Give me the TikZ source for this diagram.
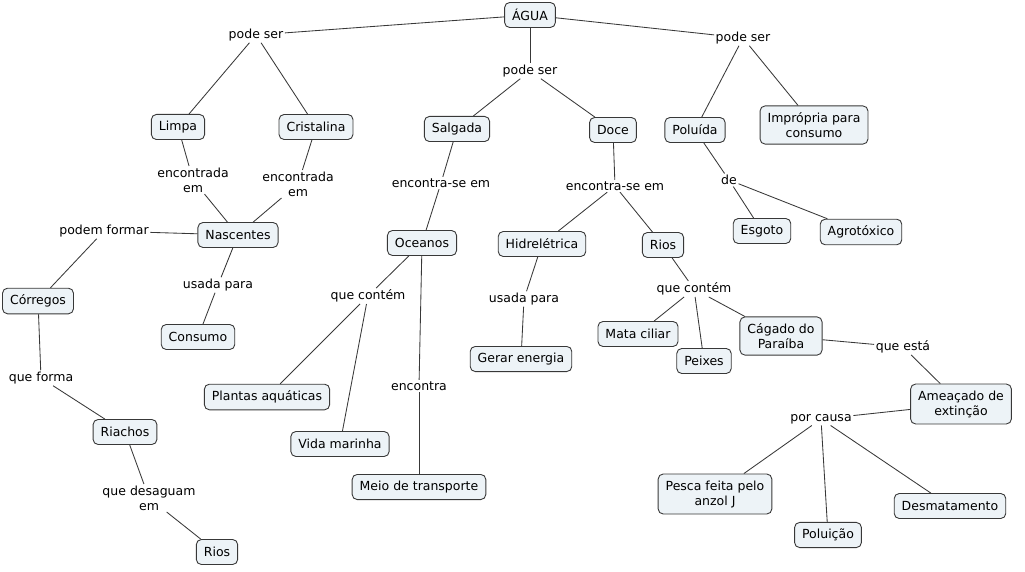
\documentclass[tikz,border=0pt]{standalone}
\usepackage{fontspec}
\setmainfont{DejaVu Sans}
\definecolor{conceptfill}{RGB}{237,243,247}
\definecolor{conceptline}{RGB}{56,56,56}

\begin{document}
\begin{tikzpicture}[x=1pt,y=-1pt,
  font=\fontsize{12.5}{15}\selectfont,
  concept/.style={draw=conceptline,fill=conceptfill,rounded corners=5pt,
    line width=0.9pt,minimum height=25pt,inner xsep=7.5pt,inner ysep=6.5pt,align=center},
  link/.style={inner sep=1.5pt,align=center},
  conn/.style={draw=conceptline,line width=0.85pt}]
  \useasboundingbox (0,0) rectangle (1025,572);
  % concepts and linking words
  \node[concept] (agua) at (530,15) {ÁGUA};
  \node[link] (ps1) at (256,35) {pode ser};
  \node[link] (ps2) at (530,71) {pode ser};
  \node[link] (ps3) at (743,38) {pode ser};
  \node[concept] (limpa) at (178,127) {Limpa};
  \node[concept] (cristalina) at (316,127) {Cristalina};
  \node[concept] (salgada) at (457,129) {Salgada};
  \node[concept] (doce) at (613,130) {Doce};
  \node[concept] (poluida) at (695,130) {Poluída};
  \node[concept] (impropria) at (814,125) {Imprópria para\\consumo};
  \node[link] (enc1) at (193,180) {encontrada\\em};
  \node[link] (enc2) at (298,184) {encontrada\\em};
  \node[link] (encse1) at (441,183) {encontra-se em};
  \node[link] (encse2) at (615,186) {encontra-se em};
  \node[link] (de) at (729,180) {de};
  \node[concept] (nascentes) at (238,235) {Nascentes};
  \node[concept] (oceanos) at (422,243) {Oceanos};
  \node[concept] (hidreletrica) at (542,244) {Hidrelétrica};
  \node[concept] (rios1) at (663,245) {Rios};
  \node[concept] (esgoto) at (762,231) {Esgoto};
  \node[concept] (agrotoxico) at (861,232) {Agrotóxico};
  \node[link] (podem) at (104,231) {podem formar};
  \node[link] (usada1) at (218,285) {usada para};
  \node[link] (usada2) at (524,299) {usada para};
  \node[link] (contem1) at (368,296) {que contém};
  \node[link] (contem2) at (694,289) {que contém};
  \node[concept] (corregos) at (38,301) {Córregos};
  \node[concept] (consumo) at (198,337) {Consumo};
  \node[concept] (gerar) at (521,359) {Gerar energia};
  \node[concept] (mata) at (638,334) {Mata ciliar};
  \node[concept] (peixes) at (704,361) {Peixes};
  \node[concept] (cagado) at (781,336) {Cágado do\\Paraíba};
  \node[link] (esta) at (903,347) {que está};
  \node[link] (forma) at (41,378) {que forma};
  \node[concept] (plantas) at (267,397) {Plantas aquáticas};
  \node[link] (encontra) at (419,386) {encontra};
  \node[concept] (ameacado) at (961,404) {Ameaçado de\\extinção};
  \node[link] (causa) at (821,419) {por causa};
  \node[concept] (riachos) at (125,432) {Riachos};
  \node[concept] (vida) at (340,444) {Vida marinha};
  \node[concept] (meio) at (419,487) {Meio de transporte};
  \node[concept] (pesca) at (715,494) {Pesca feita pelo\\anzol J};
  \node[concept] (desmat) at (950,506) {Desmatamento};
  \node[link] (desaguam) at (149,498) {que desaguam\\em};
  \node[concept] (rios2) at (217,552) {Rios};
  \node[concept] (poluicao) at (828,535) {Poluição};
  % links
  \foreach \a/\b in {agua/ps1,ps1/limpa,ps1/cristalina,
    agua/ps2,ps2/salgada,ps2/doce,
    agua/ps3,ps3/poluida,ps3/impropria,
    limpa/enc1,enc1/nascentes,cristalina/enc2,enc2/nascentes,
    nascentes/podem,podem/corregos,nascentes/usada1,usada1/consumo,
    corregos/forma,forma/riachos,riachos/desaguam,desaguam/rios2,
    salgada/encse1,encse1/oceanos,oceanos/contem1,contem1/plantas,
    contem1/vida,oceanos/encontra,encontra/meio,
    doce/encse2,encse2/hidreletrica,encse2/rios1,
    hidreletrica/usada2,usada2/gerar,
    rios1/contem2,contem2/mata,contem2/peixes,contem2/cagado,
    cagado/esta,esta/ameacado,ameacado/causa,
    causa/pesca,causa/poluicao,causa/desmat,
    poluida/de,de/esgoto,de/agrotoxico}
    \draw[conn] (\a) -- (\b);
\end{tikzpicture}
\end{document}
